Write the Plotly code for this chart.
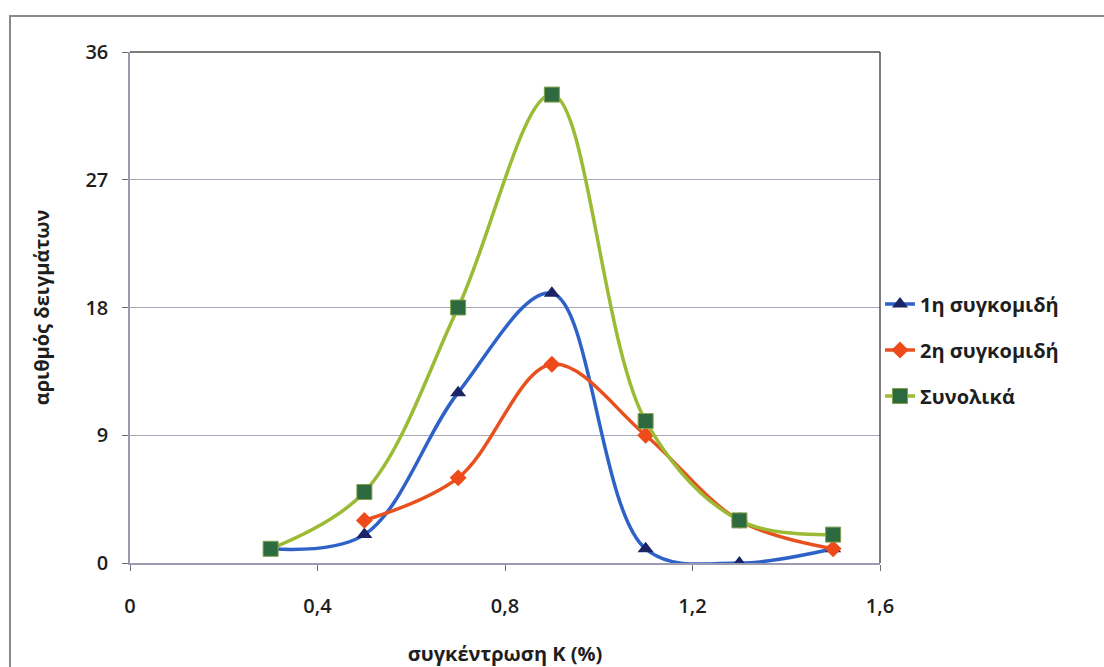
import plotly.graph_objects as go

x_all = [0.3, 0.5, 0.7, 0.9, 1.1, 1.3, 1.5]
harvest1 = [1, 2, 12, 19, 1, 0, 1]
x_h2 = [0.5, 0.7, 0.9, 1.1, 1.3, 1.5]
harvest2 = [3, 6, 14, 9, 3, 1]
total = [1, 5, 18, 33, 10, 3, 2]

names = ["1η συγκομιδή", "2η συγκομιδή", "Συνολικά"]
y_ticks = [0, 9, 18, 27, 36]
x_ticks = [0, 0.4, 0.8, 1.2, 1.6]
x_ticklabels = ["0", "0,4", "0,8", "1,2", "1,6"]

FONT = "Open Sans"
TXT = "#1E1E1E"

fig = go.Figure()
fig.add_trace(go.Scatter(
    x=x_all, y=harvest1, name=names[0], mode="lines+markers", legendgroup="a",
    line=dict(color="#2F62C8", width=3.5, shape="spline", smoothing=1.0),
    marker=dict(symbol="triangle-up", size=14, color="#1B2466", line=dict(width=0)),
))
fig.add_trace(go.Scatter(
    x=x_h2, y=harvest2, name=names[1], mode="lines+markers", legendgroup="b",
    line=dict(color="#E8501E", width=3.5, shape="spline", smoothing=1.0),
    marker=dict(symbol="diamond", size=13, color="#EE4A1A", line=dict(width=0)),
))
fig.add_trace(go.Scatter(
    x=x_all, y=total, name=names[2], mode="lines+markers", legendgroup="c",
    line=dict(color="#9BBB35", width=3.5, shape="spline", smoothing=1.0),
    marker=dict(symbol="square", size=15, color="#2E6A40", line=dict(width=1, color="#7FA04A")),
))

# outer chart border
fig.add_shape(type="rect", xref="paper", yref="paper",
              x0=(10 - 130) / 750, x1=(1130 - 130) / 750,
              y0=(563 - 720) / 511, y1=(563 - 16) / 511,
              line=dict(color="#8A8A8A", width=2), layer="below")

fig.update_layout(
    width=1104, height=667,
    margin=dict(l=130, r=224, t=52, b=104),
    paper_bgcolor="white", plot_bgcolor="white",
    font=dict(family=FONT, color=TXT),
    showlegend=True,
    legend=dict(x=1.0, y=0.545, xanchor="left", yanchor="top",
                font=dict(size=20, family=FONT, color=TXT, weight="bold"),
                tracegroupgap=17, traceorder="grouped",
                bgcolor="rgba(0,0,0,0)"),
    xaxis=dict(range=[0, 1.6], tickvals=x_ticks, ticktext=x_ticklabels, automargin=False,
               showgrid=False, zeroline=False, showline=True, linecolor="#9A9AB0", linewidth=1.5,
               ticks="outside", ticklen=6, tickcolor="#707080", ticklabelstandoff=18,
               tickfont=dict(size=20, family=FONT, color=TXT, weight=600),
               title=dict(text="συγκέντρωση Κ (%)", standoff=30,
                          font=dict(size=20, family=FONT, color=TXT, weight="bold"))),
    yaxis=dict(range=[0, 36], tickvals=y_ticks, showgrid=True, gridcolor="#A8A8B8", gridwidth=1,
               automargin=False,
               zeroline=False, showline=True, linecolor="#9A9AB0", linewidth=1.5,
               ticks="outside", ticklen=6, tickcolor="#707080", ticklabelstandoff=10,
               tickfont=dict(size=20, family=FONT, color=TXT, weight=600),
               title=dict(text="αριθμός δειγμάτων", standoff=30,
                          font=dict(size=20, family=FONT, color=TXT, weight="bold"))),
)

# plot area frame top/right (Excel plot area border)
fig.add_shape(type="line", xref="paper", yref="paper", x0=0, x1=1, y0=1, y1=1,
              line=dict(color="#505050", width=1.5))
fig.add_shape(type="line", xref="paper", yref="paper", x0=1, x1=1, y0=0, y1=1,
              line=dict(color="#505050", width=1.5))

fig.write_html("out.html")
